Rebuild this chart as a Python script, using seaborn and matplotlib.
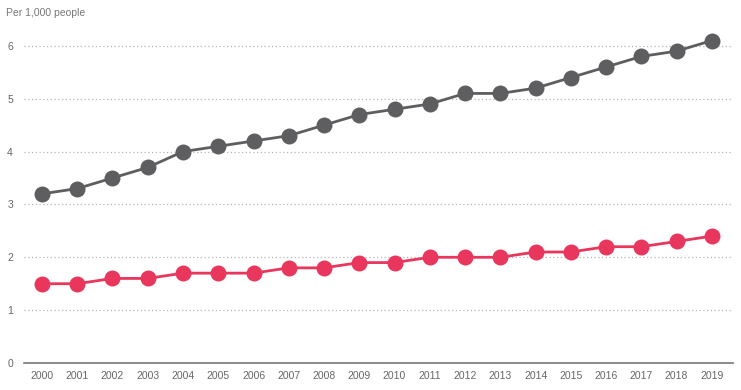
import matplotlib
matplotlib.use("Agg")
import matplotlib.pyplot as plt
import seaborn as sns
import pandas as pd

years = list(range(2000, 2020))
grey_series = [3.2, 3.3, 3.5, 3.7, 4.0, 4.1, 4.2, 4.3, 4.5, 4.7, 4.8, 4.9, 5.1, 5.1, 5.2, 5.4, 5.6, 5.8, 5.9, 6.1]
red_series = [1.5, 1.5, 1.6, 1.6, 1.7, 1.7, 1.7, 1.8, 1.8, 1.9, 1.9, 2.0, 2.0, 2.0, 2.1, 2.1, 2.2, 2.2, 2.3, 2.4]
y_ticks = [0, 1, 2, 3, 4, 5, 6]
y_label = "Per 1,000 people"

df = pd.DataFrame({
    "year": years * 2,
    "value": grey_series + red_series,
    "series": ["grey"] * len(years) + ["red"] * len(years),
})

sns.set_style("white")
plt.rcParams['font.family'] = ['Liberation Sans', 'DejaVu Sans']

fig = plt.figure(figsize=(7.41, 3.90), dpi=100)
ax = fig.add_axes([24 / 741, 27 / 390, (733 - 24) / 741, (363 - 30) / 390])

palette = {"grey": "#5e5e60", "red": "#e8365d"}
sns.lineplot(data=df, x="year", y="value", hue="series", palette=palette,
             marker="o", markersize=11.5, markeredgewidth=0, linewidth=2.0,
             legend=False, ax=ax)

ax.set_xlim(2000 - 0.51, 2019 + 0.6)
ax.set_ylim(0, 6.3)
ax.set_xticks(years)
ax.set_xticklabels([str(y) for y in years])
ax.set_yticks(y_ticks)
ax.set_yticklabels([str(t) for t in y_ticks])
ax.set_xlabel("")
ax.set_ylabel("")

for t in y_ticks[1:]:
    ax.axhline(t, color="#b5b5b5", linewidth=0.9, linestyle=(0, (1, 2)), zorder=0)

for s in ["top", "right", "left"]:
    ax.spines[s].set_visible(False)
ax.spines["bottom"].set_color("#777777")
ax.spines["bottom"].set_linewidth(1.2)

ax.tick_params(axis="both", length=0, labelsize=7.5, colors="#666666")
ax.tick_params(axis="x", pad=6)
for lbl in ax.get_yticklabels():
    lbl.set_horizontalalignment("center")
ax.yaxis.set_tick_params(pad=10)

fig.text(6 / 741, 1 - 13 / 390, y_label, fontsize=7.5, color="#777777", va="center", ha="left")

fig.savefig("out.png", dpi=100)
